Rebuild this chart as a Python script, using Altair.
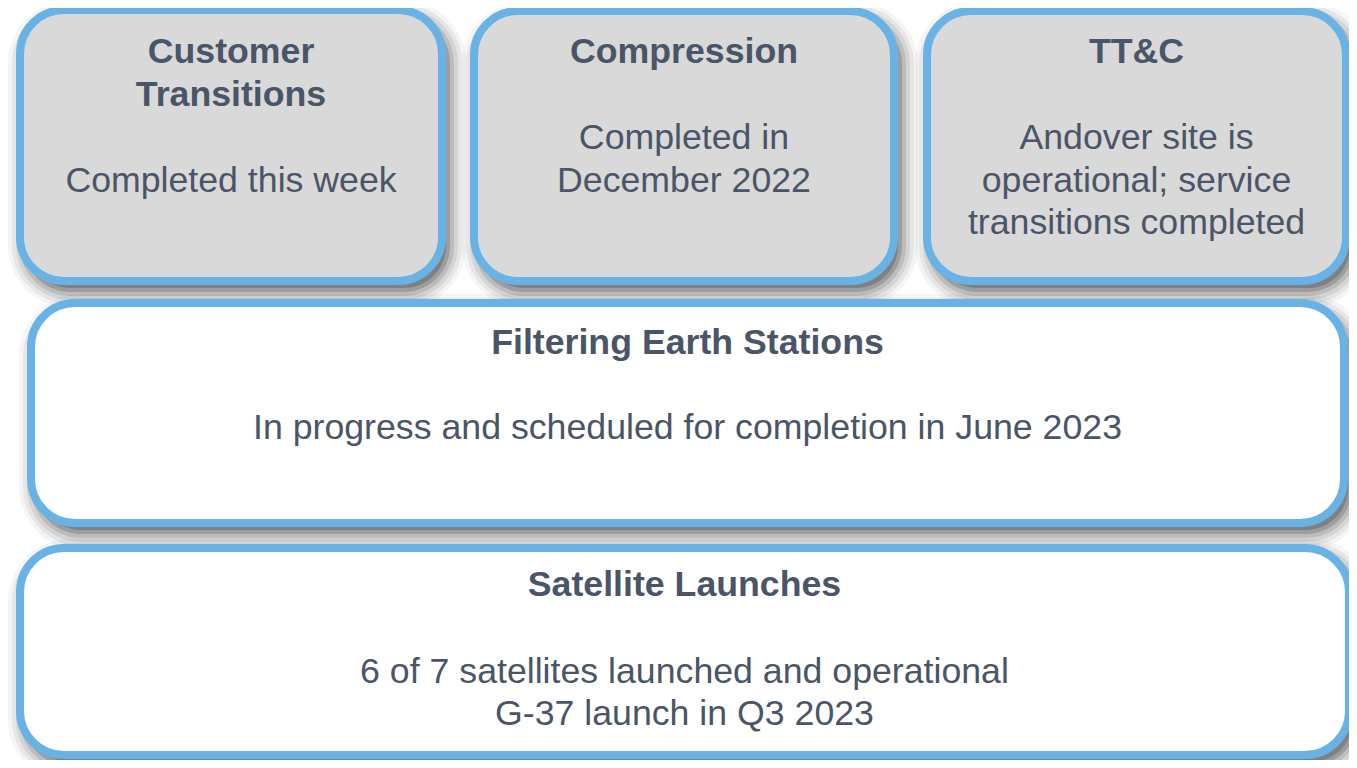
import altair as alt
import pandas as pd

# Box content
box_titles = ["Customer\nTransitions", "Compression", "TT&C",
              "Filtering Earth Stations", "Satellite Launches"]
box_bodies = [["Completed this week"],
              ["Completed in", "December 2022"],
              ["Andover site is", "operational; service", "transitions completed"],
              ["In progress and scheduled for completion in June 2023"],
              ["6 of 7 satellites launched and operational", "G-37 launch in Q3 2023"]]
box_status = ["done", "done", "done", "open", "open"]

# Layout (pixel-like diagram coordinates)
box_x1 = [20, 474, 927, 31, 20]
box_x2 = [442, 894, 1346, 1344, 1349]
box_y1 = [10, 11, 11, 303, 548]
box_y2 = [281, 281, 281, 523, 755]
title_y = [[52, 95], [52], [52], [343], [585]]
body_y = [[181], [138, 181], [138, 181, 223], [428], [672, 714]]

FILL = {"done": "#D9D9D9", "open": "#FFFFFF"}
BORDER = "#69B2E6"
TEXT = "#4A5568"
FONT = "Liberation Sans"
FS = 35.7

boxes = pd.DataFrame({
    "x1": box_x1, "x2": box_x2, "y1": box_y1, "y2": box_y2,
    "status": box_status,
})

title_rows, body_rows = [], []
for i, t in enumerate(box_titles):
    cx = (box_x1[i] + box_x2[i]) / 2
    for line, yy in zip(t.split("\n"), title_y[i]):
        title_rows.append({"x": cx, "y": yy, "text": line})
    for line, yy in zip(box_bodies[i], body_y[i]):
        body_rows.append({"x": cx, "y": yy, "text": line})
titles = pd.DataFrame(title_rows)
bodies = pd.DataFrame(body_rows)

xs = alt.Scale(domain=[8, 1349], nice=False, zero=False)
ys = alt.Scale(domain=[8, 760], nice=False, zero=False, reverse=True)
X = lambda f: alt.X(f, type="quantitative", scale=xs, axis=None)
Y = lambda f: alt.Y(f, type="quantitative", scale=ys, axis=None)

layers = []
# soft drop shadow
for e, op in [(18, 0.04), (14, 0.06), (10, 0.08), (6, 0.11), (2, 0.16), (-2, 0.18)]:
    sh = alt.Chart(boxes).transform_calculate(
        sx1=f"datum.x1 + 6 - ({e})", sx2=f"datum.x2 + 6 + ({e})",
        sy1=f"datum.y1 + 9 - ({e})", sy2=f"datum.y2 + 9 + ({e})",
    ).mark_rect(color="#000000", opacity=op, cornerRadius=44 + e).encode(
        x=X("sx1:Q"), x2="sx2:Q", y=Y("sy1:Q"), y2="sy2:Q"
    )
    layers.append(sh)

rects = alt.Chart(boxes).mark_rect(
    stroke=BORDER, strokeWidth=8, cornerRadius=44
).encode(
    x=X("x1:Q"), x2="x2:Q", y=Y("y1:Q"), y2="y2:Q",
    fill=alt.Fill("status:N", scale=alt.Scale(domain=list(FILL.keys()),
                                              range=list(FILL.values())),
                  legend=None),
)
layers.append(rects)

t_layer = alt.Chart(titles).mark_text(
    font=FONT, fontSize=FS, fontWeight="bold", color=TEXT,
    align="center", baseline="middle"
).encode(x=X("x:Q"), y=Y("y:Q"), text="text:N")
b_layer = alt.Chart(bodies).mark_text(
    font=FONT, fontSize=FS, color=TEXT, align="center", baseline="middle"
).encode(x=X("x:Q"), y=Y("y:Q"), text="text:N")
layers += [t_layer, b_layer]

chart = alt.layer(*layers).properties(
    width=1341, height=752, padding=0, autosize=alt.AutoSizeParams(type="none"),
    background="#FFFFFF"
).configure_view(stroke=None)

chart.save("out.html", embed_options={"renderer": "svg", "actions": False})
